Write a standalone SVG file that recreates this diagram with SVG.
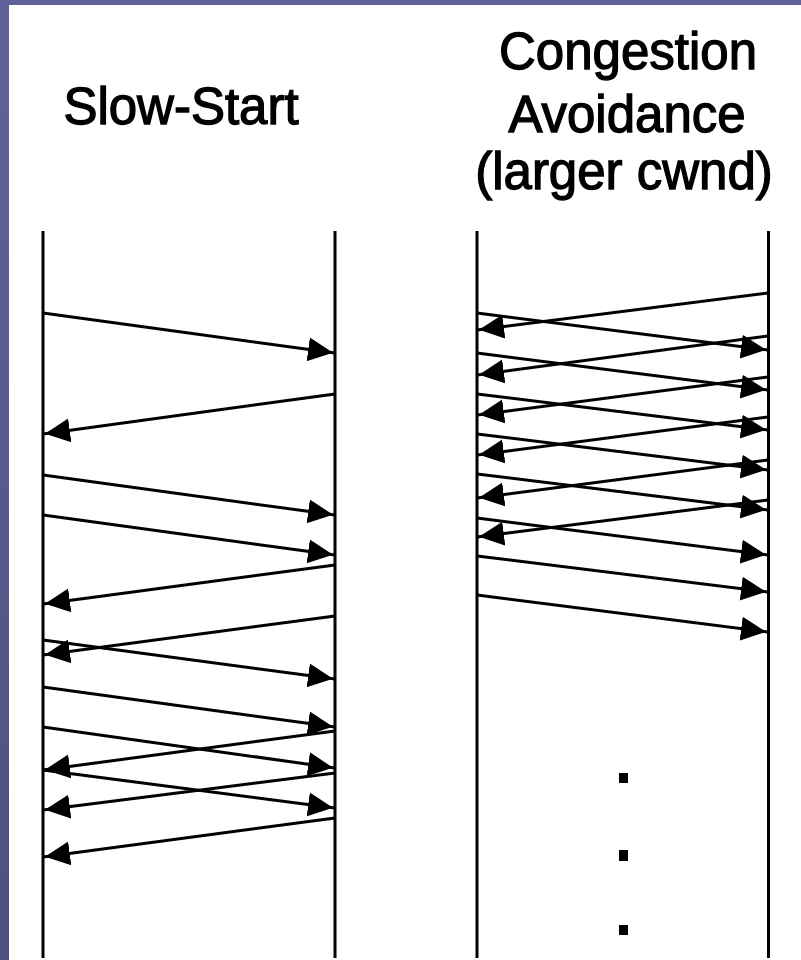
<svg xmlns="http://www.w3.org/2000/svg" width="801" height="960" viewBox="0 0 801 960">
<style>
.title{font-family:"Liberation Sans",Arial,sans-serif;font-size:51px;fill:#000;stroke:#000;stroke-width:1.3;text-anchor:middle}
.life{stroke:#000;stroke-width:3;fill:none}
.msg{stroke:#000;stroke-width:3;fill:none;marker-end:url(#ah)}
.dot{fill:#000}
</style>
<defs>
<linearGradient id="bg" x1="0" y1="0" x2="0" y2="1">
<stop offset="0" stop-color="#62629a"/>
<stop offset="1" stop-color="#4f4f80"/>
</linearGradient>
<marker id="ah" markerUnits="userSpaceOnUse" markerWidth="30" markerHeight="28" viewBox="0 -14 30 28" refX="27" refY="0" orient="auto">
<path d="M0,-12 L25,0 L0,12 Z" fill="#000"/>
</marker>
</defs>
<rect x="0" y="0" width="801" height="960" fill="url(#bg)"/>
<rect x="9" y="5" width="792" height="955" fill="#fff"/>

<g id="title-slow-start"><text class="title" x="181" y="124">Slow-Start</text></g>
<g id="title-congestion-avoidance">
<text class="title" x="628" y="69">Congestion</text>
<text class="title" x="627" y="132">Avoidance</text>
<text class="title" x="624" y="189">(larger cwnd)</text>
</g>

<g id="lifelines">
<g id="ss-sender"><line class="life" x1="43" y1="231" x2="43" y2="958"/></g>
<g id="ss-receiver"><line class="life" x1="335" y1="231" x2="335" y2="958"/></g>
<g id="ca-sender"><line class="life" x1="477" y1="231" x2="477" y2="958"/></g>
<g id="ca-receiver"><line class="life" x1="768.5" y1="231" x2="768.5" y2="958" stroke-width="3.5"/></g>
</g>

<g id="connectors">
<g id="ss-data">
<line class="msg" x1="43" y1="313" x2="335" y2="353"/>
<line class="msg" x1="43" y1="475" x2="335" y2="515"/>
<line class="msg" x1="43" y1="515" x2="335" y2="555"/>
<line class="msg" x1="43" y1="640" x2="335" y2="679"/>
<line class="msg" x1="43" y1="687" x2="335" y2="727"/>
<line class="msg" x1="43" y1="727" x2="335" y2="768"/>
<line class="msg" x1="43" y1="770" x2="335" y2="808"/>
</g>
<g id="ss-acks">
<line class="msg" x1="335" y1="394" x2="43" y2="434"/>
<line class="msg" x1="335" y1="565" x2="43" y2="604"/>
<line class="msg" x1="335" y1="616" x2="43" y2="655"/>
<line class="msg" x1="335" y1="731" x2="43" y2="770"/>
<line class="msg" x1="335" y1="773" x2="43" y2="810"/>
<line class="msg" x1="335" y1="818" x2="43" y2="857"/>
</g>
<g id="ca-data">
<line class="msg" x1="477" y1="313" x2="768" y2="350"/>
<line class="msg" x1="477" y1="353" x2="768" y2="390"/>
<line class="msg" x1="477" y1="394" x2="768" y2="430"/>
<line class="msg" x1="477" y1="434" x2="768" y2="470"/>
<line class="msg" x1="477" y1="474" x2="768" y2="510"/>
<line class="msg" x1="477" y1="518" x2="768" y2="555"/>
<line class="msg" x1="477" y1="556" x2="768" y2="592"/>
<line class="msg" x1="477" y1="595" x2="768" y2="632"/>
</g>
<g id="ca-acks">
<line class="msg" x1="768" y1="293" x2="477" y2="330"/>
<line class="msg" x1="768" y1="336" x2="477" y2="375"/>
<line class="msg" x1="768" y1="377" x2="477" y2="415"/>
<line class="msg" x1="768" y1="417" x2="477" y2="455"/>
<line class="msg" x1="768" y1="460" x2="477" y2="498"/>
<line class="msg" x1="768" y1="500" x2="477" y2="537"/>
</g>
</g>

<g id="ellipsis">
<rect class="dot" x="619" y="773" width="9" height="10"/>
<rect class="dot" x="619" y="850" width="9" height="11"/>
<rect class="dot" x="619" y="925" width="9" height="10"/>
</g>
</svg>
